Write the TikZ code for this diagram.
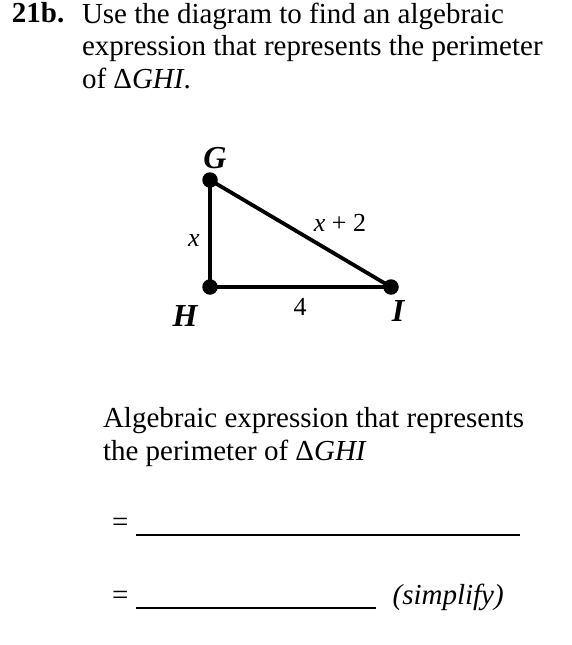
\documentclass[tikz,border=0pt]{standalone}
\usepackage{fontspec}
\setmainfont{Liberation Serif}
\usetikzlibrary{positioning}

\begin{document}
\begin{tikzpicture}[
  x=1pt, y=-1pt,
  every node/.style={inner sep=0pt, outer sep=0pt},
  txt/.style={font=\fontsize{29}{32.5}\selectfont, align=left, anchor=base west},
  vtx/.style={font=\fontsize{32}{34}\selectfont\bfseries\itshape},
  side/.style={font=\fontsize{26}{28}\selectfont},
  dot/.style={circle, fill=black, minimum size=15.5pt},
  edge/.style={draw, line width=3.8pt}
]
\useasboundingbox (0,0) rectangle (571,645);

% question (base = last line)
\node[txt] (num) at (12,23) {\textbf{21b.}};
\node[txt] (q) at (82,88)
  {Use the diagram to find an algebraic\\
   expression that represents the perimeter\\
   of Δ\textit{GHI}.};

% triangle
\node[dot] (G) at (210,180) {};
\node[dot] (H) at (210,287) {};
\node[dot] (I) at (391,287) {};
\draw[edge] (G.center) -- (H.center) -- (I.center) -- cycle;

\node[vtx] (lG) at (215,158) {G};
\node[vtx] (lH) at (185,316) {H};
\node[vtx] (lI) at (398,311) {I};
\node[side] (lx) at (194,241) {\textit{x}};
\node[side] (lxp) at (340,223) {\textit{x} + 2};
\node[side] (l4) at (300,307) {4};

% answer
\node[txt] (a) at (103,460)
  {Algebraic expression that represents\\
   the perimeter of Δ\textit{GHI}};
\node[txt] (e1) at (112,531) {= \rule[-4.5pt]{384pt}{1.5pt}};
\node[txt] (e2) at (112,604) {= \rule[-4.5pt]{240pt}{1.5pt}\hspace{17pt}\textit{(simplify)}};
\end{tikzpicture}
\end{document}
